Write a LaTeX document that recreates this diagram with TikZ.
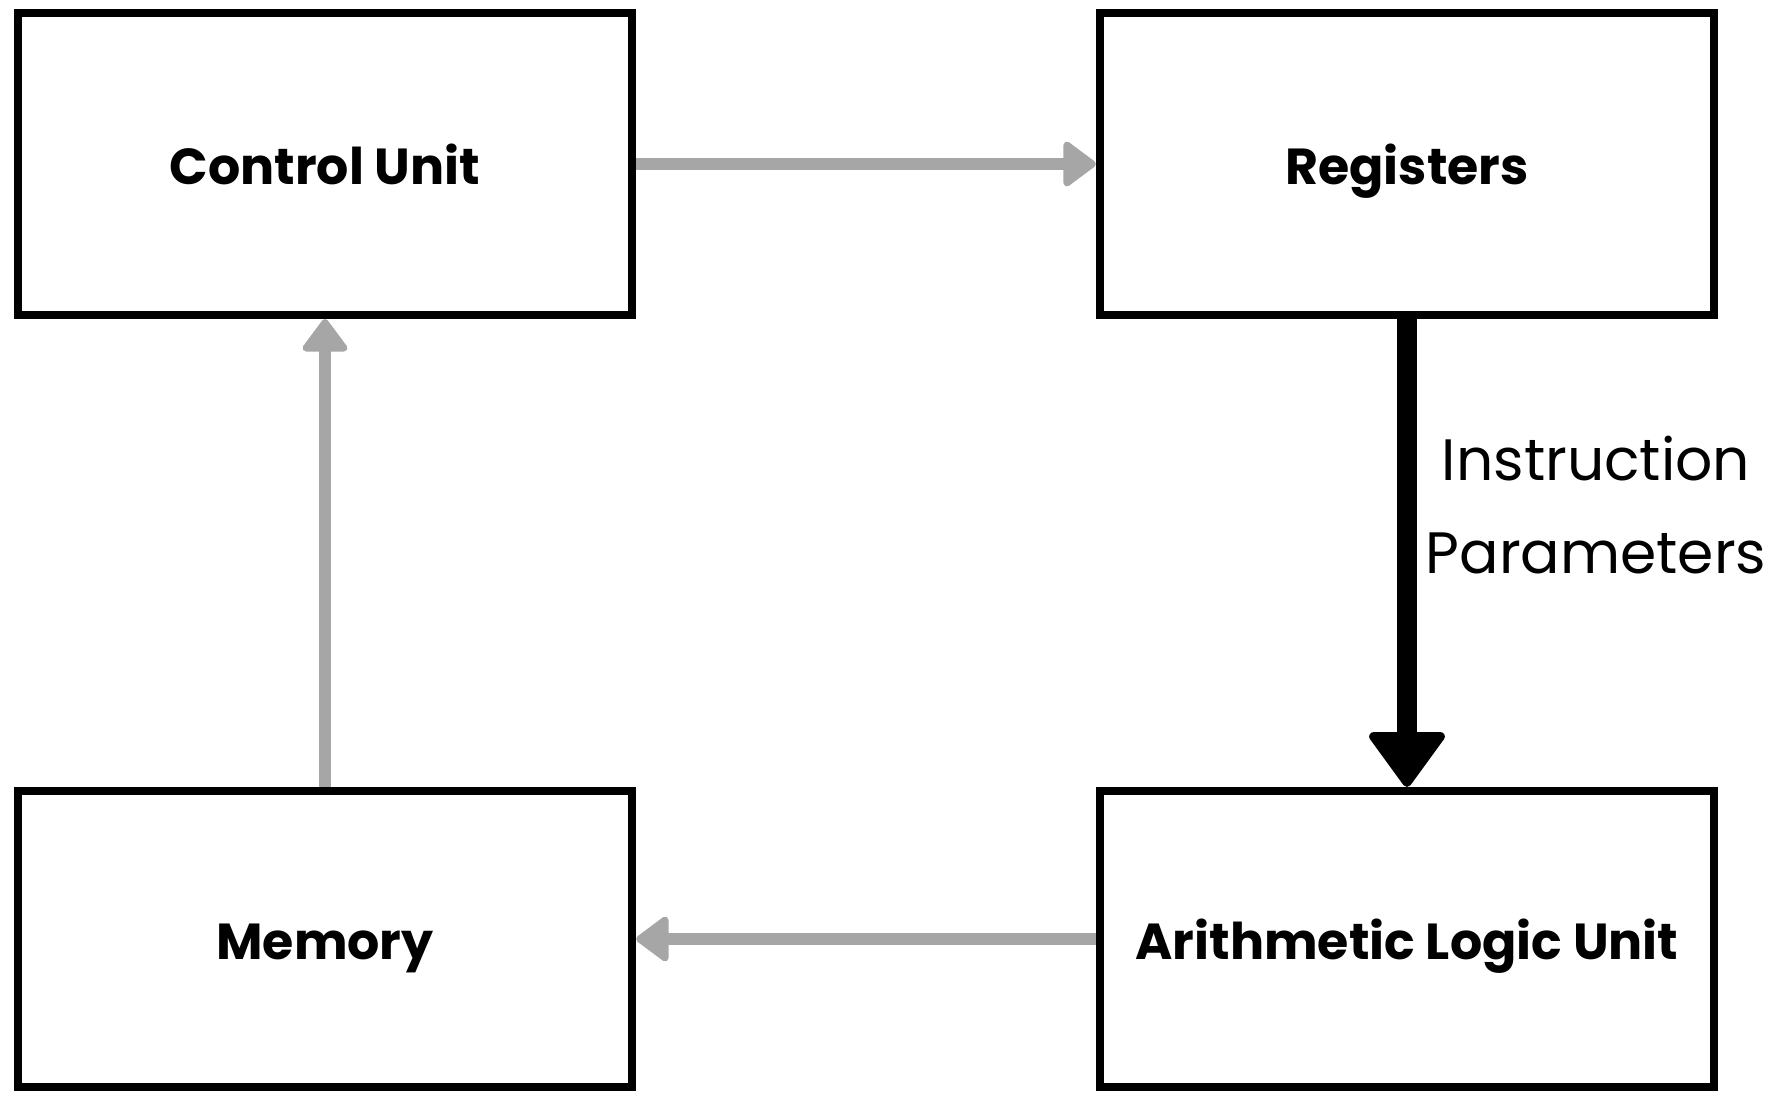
\documentclass[tikz,border=0pt]{standalone}
\usepackage{fontspec}
\setmainfont{Poppins}
\usetikzlibrary{arrows.meta}
\definecolor{arrgray}{HTML}{A6A6A6}
\tikzset{
  unitbox/.style={draw=black, line width=0.08cm, fill=white, minimum width=6.14cm, align=center,
    font=\fontsize{14.4}{17}\selectfont\bfseries, inner sep=0pt, text height=0.45cm, text depth=0.05cm},
  grayarrow/.style={draw=arrgray, line width=0.12cm,
    -{Triangle[length=0.35cm, width=0.5cm, line width=2pt, round, color=arrgray]}},
  blackarrow/.style={draw=black, line width=0.2cm,
    -{Triangle[length=0.58cm, width=0.82cm, line width=2.5pt, round]}},
  lbl/.style={font=\fontsize{16.6}{26.7}\selectfont, align=center, inner sep=0pt}
}
\begin{document}
\begin{tikzpicture}[x=0.01cm, y=-0.01cm]
  \useasboundingbox (0,0) rectangle (1772,1093);
  \node[unitbox, minimum height=3.02cm] (cu)  at (325,164) {Control Unit};
  \node[unitbox, minimum height=3.02cm] (reg) at (1407,164) {Registers};
  \node[unitbox, minimum height=2.96cm] (mem) at (325,939) {Memory};
  \node[unitbox, minimum height=2.96cm] (alu) at (1407,939) {Arithmetic Logic Unit};
  \draw[grayarrow] (cu.east) -- (reg.west);
  \draw[grayarrow] (mem.north) -- (cu.south);
  \draw[grayarrow] (alu.west) -- (mem.east);
  \draw[blackarrow] (reg.south) -- (alu.north);
  \node[lbl] (ip) at (1596,505) {Instruction\\Parameters};
\end{tikzpicture}
\end{document}
